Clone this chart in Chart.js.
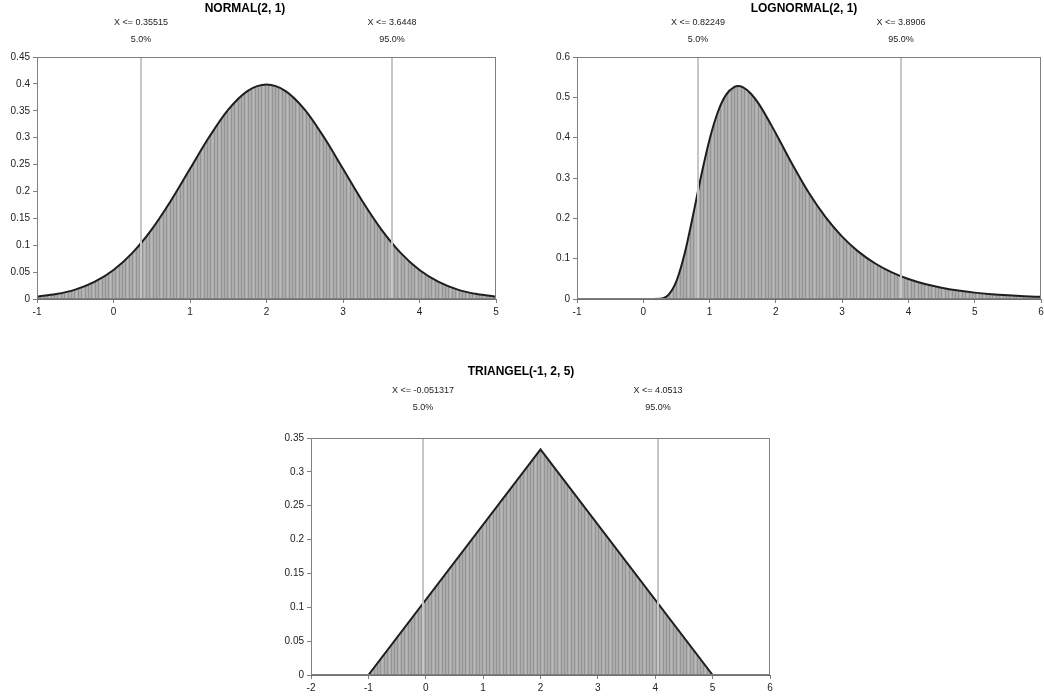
<!DOCTYPE html>
<html>
<head>
<meta charset="utf-8">
<script src="https://cdn.jsdelivr.net/npm/chart.js@4.4.1/dist/chart.umd.min.js"></script>
<style>
  html, body { margin: 0; background: #fff; }
  #wrap { position: relative; width: 1044px; height: 697px; }
  canvas { position: absolute; left: 0; top: 0; }
</style>
</head>
<body>
<div id="wrap">
  <canvas id="normal" width="1044" height="697"></canvas>
  <canvas id="lognormal" width="1044" height="697"></canvas>
  <canvas id="triangel" width="1044" height="697"></canvas>
</div>
<script>
// NORMAL(2, 1) density
const normalX = [-1, -0.75, -0.5, -0.25, 0, 0.25, 0.5, 0.75, 1, 1.25, 1.5, 1.75, 2,
                 2.25, 2.5, 2.75, 3, 3.25, 3.5, 3.75, 4, 4.25, 4.5, 4.75, 5];
const normalY = [0.0044, 0.0091, 0.0175, 0.0317, 0.054, 0.0863, 0.1295, 0.1826, 0.242, 0.3011, 0.3521, 0.3867, 0.3989,
                 0.3867, 0.3521, 0.3011, 0.242, 0.1826, 0.1295, 0.0863, 0.054, 0.0317, 0.0175, 0.0091, 0.0044];
const normalXTicks = [-1, 0, 1, 2, 3, 4, 5];
const normalYTicks = [0, 0.05, 0.1, 0.15, 0.2, 0.25, 0.3, 0.35, 0.4, 0.45];
const normalMarks = [0.35515, 3.6448];
const normalMarkLabels = ['X <= 0.35515', 'X <= 3.6448'];

// LOGNORMAL(2, 1)
const lognormalX = [-1, 0, 0.25, 0.375, 0.5, 0.625, 0.75, 0.875, 1, 1.125, 1.25, 1.375, 1.43, 1.5, 1.625, 1.75,
                    2, 2.25, 2.5, 2.75, 3, 3.25, 3.5, 3.75, 4, 4.25, 4.5, 4.75, 5, 5.25, 5.5, 5.75, 6];
const lognormalY = [0, 0, 0.0006, 0.0095, 0.0443, 0.1134, 0.2072, 0.3069, 0.3957, 0.4636, 0.5066, 0.5259, 0.528, 0.5252, 0.509, 0.482,
                    0.4106, 0.3336, 0.2628, 0.2029, 0.1547, 0.1169, 0.088, 0.066, 0.0495, 0.0371, 0.0279, 0.021, 0.0158, 0.012, 0.0091, 0.0069, 0.0053];
const lognormalXTicks = [-1, 0, 1, 2, 3, 4, 5, 6];
const lognormalYTicks = [0, 0.1, 0.2, 0.3, 0.4, 0.5, 0.6];
const lognormalMarks = [0.82249, 3.8906];
const lognormalMarkLabels = ['X <= 0.82249', 'X <= 3.8906'];

// TRIANGEL(-1, 2, 5)
const triangelX = [-2, -1, 2, 5, 6];
const triangelY = [0, 0, 0.3333, 0, 0];
const triangelXTicks = [-2, -1, 0, 1, 2, 3, 4, 5, 6];
const triangelYTicks = [0, 0.05, 0.1, 0.15, 0.2, 0.25, 0.3, 0.35];
const triangelMarks = [-0.051317, 4.0513];
const triangelMarkLabels = ['X <= -0.051317', 'X <= 4.0513'];

const markPercents = ['5.0%', '95.0%'];

const FONT = '"Liberation Sans", Arial, sans-serif';
const W = 1044, H = 697;

// grey fill with uneven vertical hatching, like the old Excel render
function stripes() {
  const c = document.createElement('canvas');
  c.width = 17; c.height = 4;
  const g = c.getContext('2d');
  g.fillStyle = '#adadad';
  g.fillRect(0, 0, 17, 4);
  g.fillStyle = '#949494';
  [0, 3, 6, 10, 13].forEach(x => g.fillRect(x, 0, 1, 4));
  g.fillStyle = '#bababa';
  [8, 15].forEach(x => g.fillRect(x, 0, 1, 4));
  return g.createPattern(c, 'repeat');
}

const overlay = {
  id: 'overlay',
  afterDatasetsDraw(chart, args, o) {
    const { ctx, chartArea: a, scales: { x } } = chart;
    ctx.save();
    ctx.strokeStyle = '#c6c6c6';
    ctx.lineWidth = 2;
    ctx.fillStyle = '#222';
    ctx.textAlign = 'center';
    ctx.textBaseline = 'middle';
    ctx.font = '9px ' + FONT;
    o.marks.forEach((m, i) => {
      const px = Math.round(x.getPixelForValue(m));
      ctx.beginPath();
      ctx.moveTo(px, a.top);
      ctx.lineTo(px, a.bottom);
      ctx.stroke();
      ctx.fillText(o.labels[i], px, a.top - o.off[1]);
      ctx.fillText(markPercents[i], px, a.top - o.off[2]);
    });
    ctx.strokeStyle = '#808080';
    ctx.lineWidth = 1;
    ctx.strokeRect(a.left + 0.5, a.top + 0.5, a.width - 1, a.height - 1);
    ctx.font = 'bold 12px ' + FONT;
    ctx.fillStyle = '#000';
    ctx.fillText(o.title, o.titleX, a.top - o.off[0]);
    ctx.restore();
  }
};

function makeChart(id, xs, ys, xTicks, yTicks, marks, labels, title, area, titleX, off, curved) {
  const fill = stripes();
  return new Chart(document.getElementById(id), {
    type: 'line',
    data: {
      datasets: [{
        data: xs.map((v, i) => ({ x: v, y: ys[i] })),
        fill: 'origin',
        backgroundColor: fill,
        borderColor: '#1e1e1e',
        borderWidth: 2,
        pointRadius: 0,
        cubicInterpolationMode: curved ? 'monotone' : 'default',
        tension: 0
      }]
    },
    options: {
      responsive: false,
      animation: false,
      events: [],
      layout: {
        padding: { left: area.left - 34, top: area.top, right: W - area.right, bottom: H - area.bottom - 22 }
      },
      plugins: {
        legend: { display: false },
        tooltip: { enabled: false },
        overlay: { marks: marks, labels: labels, title: title, titleX: titleX, off: off }
      },
      scales: {
        x: {
          type: 'linear',
          min: xTicks[0],
          max: xTicks[xTicks.length - 1],
          afterBuildTicks: s => { s.ticks = xTicks.map(v => ({ value: v })); },
          afterFit: s => { s.height = 22; s.paddingLeft = 0; s.paddingRight = 0; },
          grid: { drawOnChartArea: false, color: '#808080', tickLength: 4 },
          border: { color: '#6e6e6e' },
          ticks: { color: '#222', font: { size: 10, family: FONT }, padding: 3, maxRotation: 0, autoSkip: false }
        },
        y: {
          min: yTicks[0],
          max: yTicks[yTicks.length - 1],
          afterBuildTicks: s => { s.ticks = yTicks.map(v => ({ value: v })); },
          afterFit: s => { s.width = 34; s.paddingTop = 0; s.paddingBottom = 0; },
          grid: { drawOnChartArea: false, color: '#808080', tickLength: 4 },
          border: { color: '#6e6e6e' },
          ticks: {
            color: '#222', font: { size: 10, family: FONT }, padding: 3, autoSkip: false,
            callback: v => String(+v.toFixed(2))
          }
        }
      }
    },
    plugins: [overlay]
  });
}

makeChart('normal', normalX, normalY, normalXTicks, normalYTicks, normalMarks, normalMarkLabels,
  'NORMAL(2, 1)', { left: 37, top: 57, right: 496, bottom: 299 }, 245, [48, 34, 17], true);
makeChart('lognormal', lognormalX, lognormalY, lognormalXTicks, lognormalYTicks, lognormalMarks, lognormalMarkLabels,
  'LOGNORMAL(2, 1)', { left: 577, top: 57, right: 1041, bottom: 299 }, 804, [48, 34, 17], true);
makeChart('triangel', triangelX, triangelY, triangelXTicks, triangelYTicks, triangelMarks, triangelMarkLabels,
  'TRIANGEL(-1, 2, 5)', { left: 311, top: 438, right: 770, bottom: 675 }, 521, [66, 47, 30], false);
</script>
</body>
</html>
